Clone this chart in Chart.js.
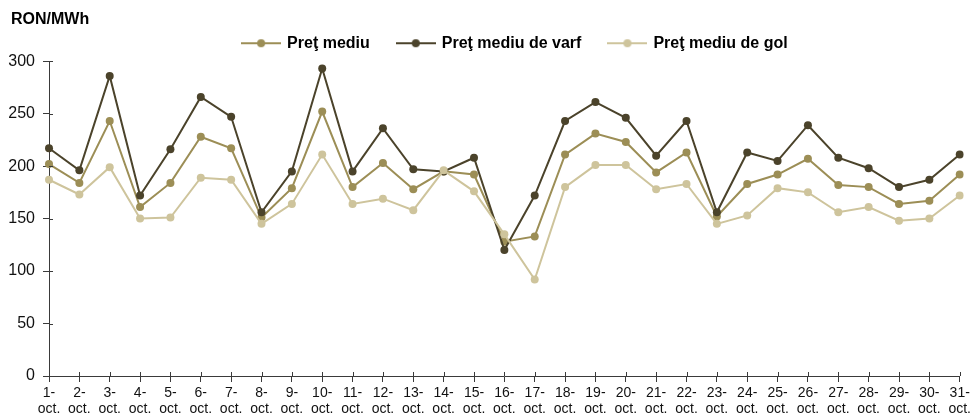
<!DOCTYPE html>
<html>
<head>
<meta charset="utf-8">
<script src="https://cdn.jsdelivr.net/npm/chart.js@4"></script>
<style>
  html, body { margin: 0; padding: 0; background: #fff; }
  #wrap { width: 974px; height: 417px; }
</style>
</head>
<body>
<div id="wrap"><canvas id="myChart"></canvas></div>
<script>
// data
const days = [];
for (let d = 1; d <= 31; d++) days.push([d + "-", "oct."]);

const pretMediu = [202, 184, 243, 161, 184, 228, 217, 151, 179, 252,
  180, 203, 178, 195, 192, 128, 133, 211, 231, 223,
  194, 213, 152, 183, 192, 207, 182, 180, 164, 167, 192];
const pretVarf = [217, 196, 286, 172, 216, 266, 247, 156, 195, 293,
  195, 236, 197, 195, 208, 120, 172, 243, 261, 246,
  210, 243, 156, 213, 205, 239, 208, 198, 180, 187, 211];
const pretGol = [187, 173, 199, 150, 151, 189, 187, 145, 164, 211,
  164, 169, 158, 196, 176, 135, 92, 180, 201, 201,
  178, 183, 145, 153, 179, 175, 156, 161, 148, 150, 172];

const yTicks = [0, 50, 100, 150, 200, 250, 300];

const colMediu = "#9c8e56";
const colVarf = "#4b432b";
const colGol = "#cec49c";
const axisColor = "#3a3a3a";
const fontFamily = "'Liberation Sans', Arial, sans-serif";

// legend symbol: short line with a dot in the middle
function legendSymbol(color) {
  const c = document.createElement("canvas");
  c.width = 40;
  c.height = 10;
  const g = c.getContext("2d");
  g.strokeStyle = color;
  g.lineWidth = 2;
  g.beginPath();
  g.moveTo(0, 5);
  g.lineTo(40, 5);
  g.stroke();
  g.fillStyle = color;
  g.beginPath();
  g.arc(20, 5, 4, 0, Math.PI * 2);
  g.fill();
  return c;
}

function lineSet(label, values, color) {
  return {
    label: label,
    data: values,
    borderColor: color,
    backgroundColor: color,
    borderWidth: 2,
    pointRadius: 4,
    pointBorderWidth: 0,
    pointBackgroundColor: color,
    tension: 0,
  };
}

// ticks in the reference cross the axis line, draw the inner half
const crossTicks = {
  id: "crossTicks",
  afterLayout(chart) {
    // legend in the reference sits a bit right of the plot centre
    chart.legend.left += 11;
    chart.legend.right += 11;
    // unit title starts a few px further right than the tick labels
    chart.titleBlock.left += 3;
    chart.titleBlock.right += 3;
    chart.titleBlock.top += 1;
    chart.titleBlock.bottom += 1;
  },
  afterDraw(chart) {
    const c = chart.ctx;
    const xs = chart.scales.x;
    const ys = chart.scales.y;
    c.save();
    c.strokeStyle = axisColor;
    c.lineWidth = 1;
    c.beginPath();
    xs.ticks.forEach((t, i) => {
      const px = Math.round(xs.getPixelForTick(i)) + 0.5;
      c.moveTo(px, xs.top);
      c.lineTo(px, xs.top - 4);
    });
    ys.ticks.forEach((t, i) => {
      const py = Math.round(ys.getPixelForTick(i)) + 0.5;
      c.moveTo(ys.right, py);
      c.lineTo(ys.right + 4, py);
    });
    c.stroke();
    c.restore();
  },
};

const ctx = document.getElementById("myChart").getContext("2d");

new Chart(ctx, {
  type: "line",
  data: {
    labels: days,
    datasets: [
      lineSet("Preţ mediu", pretMediu, colMediu),
      lineSet("Preţ mediu de varf", pretVarf, colVarf),
      lineSet("Preţ mediu de gol", pretGol, colGol),
    ].map((ds, i) => Object.assign(ds, { order: 3 - i })),
  },
  options: {
    responsive: true,
    maintainAspectRatio: false,
    animation: false,
    layout: { padding: { left: 8, right: 13, top: 0, bottom: 0 } },
    elements: { line: { clip: false }, point: { hitRadius: 4 } },
    plugins: {
      tooltip: { enabled: false },
      title: {
        display: true,
        text: "RON/MWh",
        align: "start",
        color: "#000",
        font: { family: fontFamily, size: 16, weight: "bold", lineHeight: 1.2 },
        padding: { top: 9, bottom: -21 },
      },
      legend: {
        position: "top",
        fullSize: false,
        labels: {
          color: "#000",
          font: { family: fontFamily, size: 16, weight: "bold" },
          usePointStyle: true,
          pointStyleWidth: 36,
          padding: 28,
          generateLabels(chart) {
            return chart.data.datasets.map((ds, i) => ({
              text: ds.label,
              fontColor: "#000",
              pointStyle: legendSymbol(ds.borderColor),
              datasetIndex: i,
              hidden: false,
              lineWidth: 0,
            }));
          },
        },
      },
    },
    scales: {
      x: {
        offset: false,
        afterFit(scale) {
          scale.height = 41;
        },
        grid: {
          drawOnChartArea: false,
          drawTicks: true,
          tickLength: 6,
          color: axisColor,
        },
        border: { color: axisColor, width: 1 },
        ticks: {
          color: "#111",
          autoSkip: false,
          maxRotation: 0,
          padding: 3,
          font: { family: fontFamily, size: 14, lineHeight: 1.15 },
        },
      },
      y: {
        min: 0,
        max: 300,
        afterFit(scale) {
          scale.width = 41;
        },
        afterBuildTicks(scale) {
          scale.ticks = yTicks.map((v) => ({ value: v }));
        },
        grid: {
          drawOnChartArea: false,
          tickLength: 6,
          color: axisColor,
        },
        border: { color: axisColor, width: 1 },
        ticks: {
          color: "#111",
          padding: 8,
          font: { family: fontFamily, size: 16 },
        },
      },
    },
  },
  plugins: [crossTicks],
});
</script>
</body>
</html>
